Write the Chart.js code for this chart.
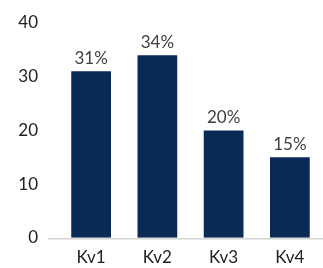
<!DOCTYPE html>
<html><head><meta charset="utf-8">
<script src="https://cdn.jsdelivr.net/npm/chart.js@4"></script>
<style>html,body{margin:0;padding:0;background:#fff}#w{width:323px;height:268px}</style>
</head><body><div id="w"><canvas id="c"></canvas></div>
<script>
const categories = ["Kv1", "Kv2", "Kv3", "Kv4"];
const values = [31, 34, 20, 15];
const valueLabels = ["31%", "34%", "20%", "15%"];
const yTicks = [0, 10, 20, 30, 40];

const axisLine = {
  id: 'axisLine',
  afterDatasetsDraw(chart) {
    const {ctx, chartArea, scales} = chart;
    const y = scales.y.getPixelForValue(0) + 1;
    ctx.save();
    ctx.strokeStyle = '#d4d4d4';
    ctx.lineWidth = 1.5;
    ctx.beginPath();
    ctx.moveTo(chartArea.left - 10, y);
    ctx.lineTo(chartArea.right, y);
    ctx.stroke();
    ctx.restore();
  }
};
const barLabels = {
  id: 'barLabels',
  afterDatasetsDraw(chart) {
    const {ctx} = chart;
    const meta = chart.getDatasetMeta(0);
    ctx.save();
    ctx.font = '17px Lato';
    ctx.fillStyle = '#404040';
    ctx.textAlign = 'center';
    ctx.textBaseline = 'alphabetic';
    meta.data.forEach((bar, i) => {
      ctx.fillText(valueLabels[i], bar.x, bar.y - 7);
    });
    ctx.restore();
  }
};

new Chart(document.getElementById('c'), {
  type: 'bar',
  data: {
    labels: categories,
    datasets: [{ data: values, backgroundColor: '#0a2a56', barPercentage: 0.6, categoryPercentage: 1 }]
  },
  options: {
    responsive: true,
    maintainAspectRatio: false,
    animation: false,
    layout: { padding: { top: 0, right: 0, left: 18, bottom: 0 } },
    plugins: { legend: { display: false }, tooltip: { enabled: false } },
    scales: {
      x: {
        afterFit(s) { s.height = 30; },
        grid: { display: false, drawTicks: false }, border: { display: false },
        ticks: { color: '#222', font: { family: 'Lato', size: 17 }, padding: 10 }
      },
      y: {
        min: 0, max: 40,
        afterFit(s) { s.width = 40; s.paddingTop = 23; },
        afterBuildTicks(s) { s.ticks = yTicks.map(v => ({ value: v })); },
        grid: { display: false, drawTicks: false }, border: { display: false },
        ticks: { color: '#222', font: { family: 'Lato', size: 17 }, padding: 20 }
      }
    }
  },
  plugins: [axisLine, barLabels]
});
</script></body></html>
